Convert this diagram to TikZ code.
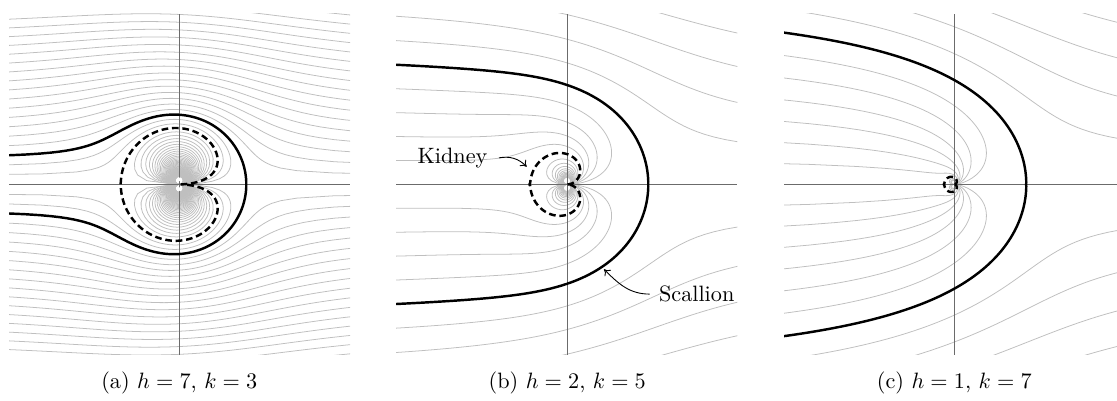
\documentclass[tikz,border=0pt]{standalone}
\usetikzlibrary{arrows.meta}

\tikzset{
  gl/.style={draw=black!25, line width=0.35pt},
  axisline/.style={draw=black!58, line width=0.55pt},
  sepline/.style={draw=black, line width=1.1pt},
  kidline/.style={draw=black, line width=1.1pt, dash pattern=on 3pt off 1.7pt},
  lab/.style={font=\normalsize, inner sep=2pt},
  callout/.style={draw=black, line width=0.4pt, -{To[length=2.6pt,width=4pt]}},
}

\makeatletter
% point of the streamline psi = \CC at polar angle #1 (degrees)
% psi = -y + LAM*theta + DEL*sin(theta)/r   (units of 10 px)
\newcommand\srpoint[1]{%
  \pgfmathsin@{#1}\let\ss\pgfmathresult
  \pgfmathcos@{#1}\let\cc\pgfmathresult
  \pgfmathmultiply@{#1}{0.0174533}%
  \pgfmathmultiply@{\pgfmathresult}{\LAM}%
  \pgfmathsubtract@{\pgfmathresult}{\CC}\let\sa\pgfmathresult
  \pgfmathmultiply@{\sa}{\sa}\let\aa\pgfmathresult
  \pgfmathmultiply@{\FDEL}{\ss}%
  \pgfmathmultiply@{\pgfmathresult}{\ss}%
  \pgfmathadd@{\pgfmathresult}{\aa}%
  \pgfmathsqrt@{\pgfmathresult}\let\sR\pgfmathresult
  \ifdim\sa pt<0pt
    \pgfmathsubtract@{\sR}{\sa}\let\den\pgfmathresult
    \pgfmathmultiply@{\TDEL}{\ss}%
    \pgfmathdivide@{\pgfmathresult}{\den}%
  \else
    \pgfmathadd@{\sa}{\sR}\let\num\pgfmathresult
    \pgfmathmultiply@{\ss}{2}%
    \pgfmathdivide@{\num}{\pgfmathresult}%
  \fi
  \let\rr\pgfmathresult
  \pgfmathmultiply@{\rr}{\cc}\let\px\pgfmathresult
  \pgfmathmultiply@{\rr}{\ss}\let\py\pgfmathresult
}
% #1 level, #2 theta min, #3 theta max, #4 samples -> \uplist, \lowlist
\newcommand\buildcurve[4]{%
  \edef\CC{#1}%
  \edef\tmin{#2}%
  \pgfmathsetmacro\sstep{(#3-(#2))/(#4-1)}%
  \pgfmathtruncatemacro\kmax{#4-1}%
  \global\let\uplist\@empty
  \global\let\lowlist\@empty
  \foreach \k in {0,...,\kmax}{%
    \pgfmathmultiply@{\k}{\sstep}%
    \pgfmathadd@{\pgfmathresult}{\tmin}\let\tth\pgfmathresult
    \srpoint{\tth}%
    \ifx\uplist\@empty
      \xdef\uplist{(\px,\py)}%
      \xdef\lowlist{(\px,-\py)}%
    \else
      \xdef\uplist{\uplist -- (\px,\py)}%
      \xdef\lowlist{(\px,-\py) -- \lowlist}%
    \fi
  }%
}
\makeatother

\newcommand\graypair{%
  \edef\tmp{\noexpand\draw[gl] \uplist; \noexpand\draw[gl] \lowlist;}\tmp}

% #1 lambda, #2 delta, #3 lines inside tail + 1, #4 number of loops
\newcommand\streamfield[4]{%
  \pgfmathsetmacro\LAM{#1}%
  \pgfmathsetmacro\FDEL{4*#2}%
  \pgfmathsetmacro\TDEL{2*#2}%
  \pgfmathsetmacro\LP{#1*pi}%
  \pgfmathsetmacro\DC{\LP/#3}%
  \pgfmathtruncatemacro\Nout{floor(17.2/\DC)}%
  \foreach \j in {1,...,\Nout}{%
    \pgfmathsetmacro\cval{-\j*\DC}%
    \pgfmathsetmacro\ta{atan(-\cval/30)}%
    \pgfmathsetmacro\tb{180-atan((\LP-\cval)/30)}%
    \buildcurve{\cval}{\ta}{\tb}{70}\graypair
  }%
  \pgfmathtruncatemacro\Nin{#3-1}%
  \foreach \j in {1,...,\Nin}{%
    \pgfmathsetmacro\cval{\j*\DC}%
    \pgfmathsetmacro\tb{180-atan((\LP-\cval)/30)}%
    \buildcurve{\cval}{0.3}{\tb}{70}\graypair
  }%
  \foreach \j in {1,...,#4}{%
    \pgfmathsetmacro\cval{\LP+\j*\DC}%
    \buildcurve{\cval}{0.3}{179.7}{30}\graypair
  }%
}

\newcommand\separatrices{%
  \buildcurve{\LP}{0.5}{179.5}{110}%
  \edef\tmp{\noexpand\draw[kidline] \uplist -- \lowlist;}\tmp
  \pgfmathsetmacro\tb{180-atan(\LP/30)}%
  \buildcurve{0}{0.5}{\tb}{120}%
  \edef\tmp{\noexpand\draw[sepline] \lowlist -- \uplist;}\tmp
}

\begin{document}
\begin{tikzpicture}[x=0.45pt,y=0.45pt]
\useasboundingbox (0,0) rectangle (1117,401);

% panel (a)
\begin{scope}[shift={(179.3,216.6)},scale=10]
  \clip (-17.03,-17.05) rectangle (17.07,17.05);
  \streamfield{0.85}{39.2}{3}{55}
  \draw[axisline] (-17.03,0) -- (17.07,0) (0,-17.05) -- (0,17.05);
  \fill[white] (-0.05,0.5) circle (0.2) (-0.05,-0.47) circle (0.2);
  \separatrices
\end{scope}

% panel (b)
\begin{scope}[shift={(567.3,216.6)},scale=10]
  \clip (-17.13,-17.05) rectangle (17.0,17.05);
  \streamfield{4.4}{29.97}{5}{13}
  \draw[axisline] (-17.13,0) -- (17.0,0) (0,-17.05) -- (0,17.05);
  \separatrices
\end{scope}

% panel (c)
\begin{scope}[shift={(954.3,216.6)},scale=10]
  \clip (-17.03,-17.05) rectangle (16.27,17.05);
  \streamfield{6.2}{7.2}{7}{3}
  \draw[axisline] (-17.03,0) -- (16.27,0) (0,-17.05) -- (0,17.05);
  \separatrices
\end{scope}

% labels in panel (b)
\node[lab,anchor=base] (kid) at (452.5,237.7) {Kidney};
\coordinate (kidtip) at (526.7,234.3);
\draw[callout] ([xshift=3pt]kid.east) to[out=10,in=135] (kidtip);
\node[lab,anchor=base] (sca) at (696.7,99.3) {Scallion};
\coordinate (scatip) at (604,131.7);
\draw[callout] ([xshift=-2pt]sca.west) to[out=180,in=-45] (scatip);

% captions
\node[anchor=base] (capa) at (179.3,12) {(a) $h=7$, $k=3$};
\node[anchor=base] (capb) at (567.3,12) {(b) $h=2$, $k=5$};
\node[anchor=base] (capc) at (954.3,12) {(c) $h=1$, $k=7$};
\end{tikzpicture}
\end{document}
